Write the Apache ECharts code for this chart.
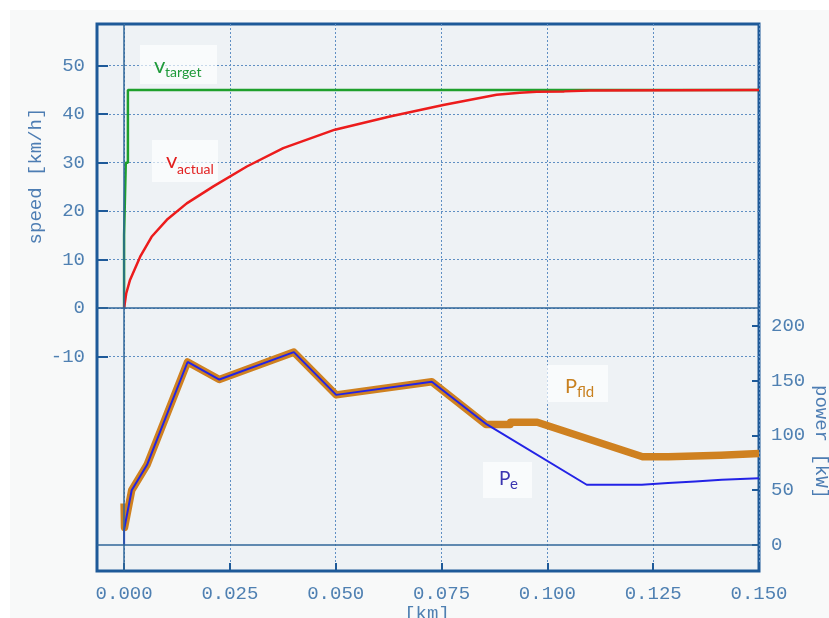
<!DOCTYPE html>
<html>
<head>
<meta charset="utf-8">
<script src="https://cdn.jsdelivr.net/npm/echarts@6/dist/echarts.min.js"></script>
<style>
  html, body { margin: 0; padding: 0; background: #ffffff; }
  #chart { width: 829px; height: 618px; }
</style>
</head>
<body>
<div id="chart"></div>
<script>
// Target speed profile [km] -> [km/h]
const targetDist  = [0, 0, 0.0004, 0.0004, 0.0009, 0.0009, 0.150];
const targetSpeed = [0, 15, 15, 30, 30, 45, 45];

// Actual speed [km] -> [km/h]
const actualDist  = [0, 0.0005, 0.0014, 0.0038, 0.0065, 0.0101, 0.0148, 0.0211, 0.0290, 0.0376,
                     0.0498, 0.0628, 0.0754, 0.0880, 0.0935, 0.0975, 0.1040, 0.1100, 0.1500];
const actualSpeed = [0, 3.0, 5.8, 10.6, 14.7, 18.2, 21.6, 25.1, 29.2, 33.0,
                     36.8, 39.5, 41.9, 44.0, 44.4, 44.6, 44.7, 44.9, 45.0];

// Power at feed [km] -> [kW]
const feedDist  = [0, 0.0001, 0.0018, 0.0054, 0.0150, 0.0225, 0.0401, 0.0501, 0.0727, 0.0855,
                   0.0912, 0.0913, 0.0976, 0.1225, 0.1285, 0.1286, 0.1410, 0.1411, 0.1500];
const feedPower = [38, 16, 50, 73, 167, 151, 176, 137, 149, 110,
                   110, 112, 112, 80.5, 80.5, 82, 82, 83.5, 83.5];

// Electrical power [km] -> [kW]
const elecDist  = [0, 0, 0.0018, 0.0054, 0.0150, 0.0225, 0.0401, 0.0501, 0.0727, 0.0857,
                   0.1093, 0.1223, 0.1224, 0.1285, 0.1286, 0.1349, 0.1350, 0.1412, 0.1413, 0.1500];
const elecPower = [0, 14, 50, 73, 167, 151, 176, 137, 149, 110,
                   55, 55, 56.5, 56.5, 58, 58, 59.5, 59.5, 61, 61];

// Labelled ticks
const distTicks  = [0, 0.025, 0.05, 0.075, 0.1, 0.125, 0.15];
const speedTicks = [-10, 0, 10, 20, 30, 40, 50];
const powerTicks = [0, 50, 100, 150, 200];

const zip = (xs, ys) => xs.map((x, i) => [x, ys[i]]);

const FRAME = '#1e5a99';
const LABEL = '#4f80b2';
const MONO = '"Liberation Mono", "DejaVu Sans Mono", monospace';
const SANS = 'Lato, "Open Sans", sans-serif';
const dotted = { type: [2, 2], color: '#5f8fc3', width: 1 };
const zeroLine = { type: 'solid', color: '#2f6699', width: 1.5 };

const tickLabel = { fontFamily: MONO, fontSize: 19, color: LABEL };

const chart = echarts.init(document.getElementById('chart'), null, { renderer: 'canvas' });

const option = {
  backgroundColor: '#ffffff',
  animation: false,
  grid: {
    left: 97, right: 70, top: 24, bottom: 47,
    show: true, backgroundColor: '#eef2f5', borderColor: FRAME, borderWidth: 3
  },
  xAxis: [{
    type: 'value', min: -0.0064, max: 0.15,
    minInterval: 0.0125, maxInterval: 0.0125,
    axisLine: { show: false, onZero: false },
    axisTick: { show: true, inside: true, length: 8, customValues: distTicks,
                lineStyle: { color: FRAME, width: 2 } },
    axisLabel: Object.assign({ customValues: distTicks, margin: 13,
                formatter: v => v.toFixed(3) }, tickLabel),
    splitLine: { show: true, lineStyle: dotted }
  }],
  yAxis: [{
    type: 'value', position: 'left', min: -54.25, max: 58.6,
    minInterval: 5, maxInterval: 5,
    axisLine: { show: false, onZero: false },
    axisTick: { show: true, inside: true, length: 11, customValues: speedTicks,
                lineStyle: { color: FRAME, width: 2 } },
    axisLabel: Object.assign({ customValues: speedTicks, margin: 12 }, tickLabel),
    splitLine: { show: true, lineStyle: dotted }
  }, {
    type: 'value', position: 'right', min: -23.7, max: 475.4,
    alignTicks: false,
    axisLine: { show: false, onZero: false },
    axisTick: { show: true, inside: true, length: 7, customValues: powerTicks,
                lineStyle: { color: FRAME, width: 2 } },
    axisLabel: Object.assign({ customValues: powerTicks, margin: 12 }, tickLabel),
    splitLine: { show: false }
  }],
  series: [{
    name: 'v target', type: 'line', xAxisIndex: 0, yAxisIndex: 0,
    data: zip(targetDist, targetSpeed), showSymbol: false, symbol: 'none',
    lineStyle: { color: '#1fa02c', width: 2.5 },
    markLine: {
      silent: true, symbol: 'none', label: { show: false },
      lineStyle: zeroLine, animation: false,
      data: [{ xAxis: 0 }, { yAxis: 0 }]
    }
  }, {
    name: 'v actual', type: 'line', xAxisIndex: 0, yAxisIndex: 0,
    data: zip(actualDist, actualSpeed), showSymbol: false, symbol: 'none',
    lineStyle: { color: '#ec1c1c', width: 2.5 }
  }, {
    name: 'P fld', type: 'line', xAxisIndex: 0, yAxisIndex: 1,
    data: zip(feedDist, feedPower), showSymbol: false, symbol: 'none',
    lineStyle: { color: '#cf8120', width: 7.5, join: 'round' },
    markLine: {
      silent: true, symbol: 'none', label: { show: false },
      lineStyle: zeroLine, animation: false,
      data: [{ yAxis: 0 }]
    }
  }, {
    name: 'P e', type: 'line', xAxisIndex: 0, yAxisIndex: 1,
    data: zip(elecDist, elecPower), showSymbol: false, symbol: 'none',
    lineStyle: { color: '#2323e6', width: 2 }
  }],
  graphic: [
    // off-white page panel
    { type: 'rect', z: -100, silent: true, shape: { x: 10, y: 10, width: 819, height: 608 },
      style: { fill: '#f8f9f9' } },

    // axis names
    { type: 'text', x: 36, y: 176, rotation: Math.PI / 2, silent: true,
      style: { text: 'speed [km/h]', font: '19px ' + MONO, fill: '#4d7db3',
               align: 'center', verticalAlign: 'middle' } },
    { type: 'text', x: 821, y: 442, rotation: -Math.PI / 2, silent: true,
      style: { text: 'power [kW]', font: '19px ' + MONO, fill: '#4d7db3',
               align: 'center', verticalAlign: 'middle' } },
    { type: 'text', x: 427, y: 614, silent: true,
      style: { text: '[km]', font: '19px ' + MONO, fill: LABEL,
               align: 'center', verticalAlign: 'middle' } },

    // series captions
    { type: 'rect', z: 50, silent: true, shape: { x: 140, y: 45, width: 77, height: 39 },
      style: { fill: 'rgba(255,255,255,0.65)' } },
    { type: 'text', z: 51, x: 154, y: 66, silent: true,
      style: { text: 'v', font: '22px ' + SANS, fill: '#1f9a3a', verticalAlign: 'middle' } },
    { type: 'text', z: 51, x: 165, y: 72, silent: true,
      style: { text: 'target', font: '14px ' + SANS, fill: '#1f9a3a', verticalAlign: 'middle' } },

    { type: 'rect', z: 50, silent: true, shape: { x: 152, y: 140, width: 66, height: 42 },
      style: { fill: 'rgba(255,255,255,0.65)' } },
    { type: 'text', z: 51, x: 166, y: 161, silent: true,
      style: { text: 'v', font: '22px ' + SANS, fill: '#e21f1f', verticalAlign: 'middle' } },
    { type: 'text', z: 51, x: 177, y: 169, silent: true,
      style: { text: 'actual', font: '14px ' + SANS, fill: '#e21f1f', verticalAlign: 'middle' } },

    { type: 'rect', z: 50, silent: true, shape: { x: 547, y: 365, width: 61, height: 37 },
      style: { fill: 'rgba(255,255,255,0.65)' } },
    { type: 'text', z: 51, x: 565, y: 387, silent: true,
      style: { text: 'P', font: '20px ' + SANS, fill: '#c8801f', verticalAlign: 'middle' } },
    { type: 'text', z: 51, x: 577, y: 392, silent: true,
      style: { text: 'fld', font: '15px ' + SANS, fill: '#c8801f', verticalAlign: 'middle' } },

    { type: 'rect', z: 50, silent: true, shape: { x: 483, y: 462, width: 49, height: 36 },
      style: { fill: 'rgba(255,255,255,0.65)' } },
    { type: 'text', z: 51, x: 499, y: 479, silent: true,
      style: { text: 'P', font: '19px ' + SANS, fill: '#3b35b0', verticalAlign: 'middle' } },
    { type: 'text', z: 51, x: 510, y: 484, silent: true,
      style: { text: 'e', font: '15px ' + SANS, fill: '#3b35b0', verticalAlign: 'middle' } }
  ]
};

chart.setOption(option);
</script>
</body>
</html>
